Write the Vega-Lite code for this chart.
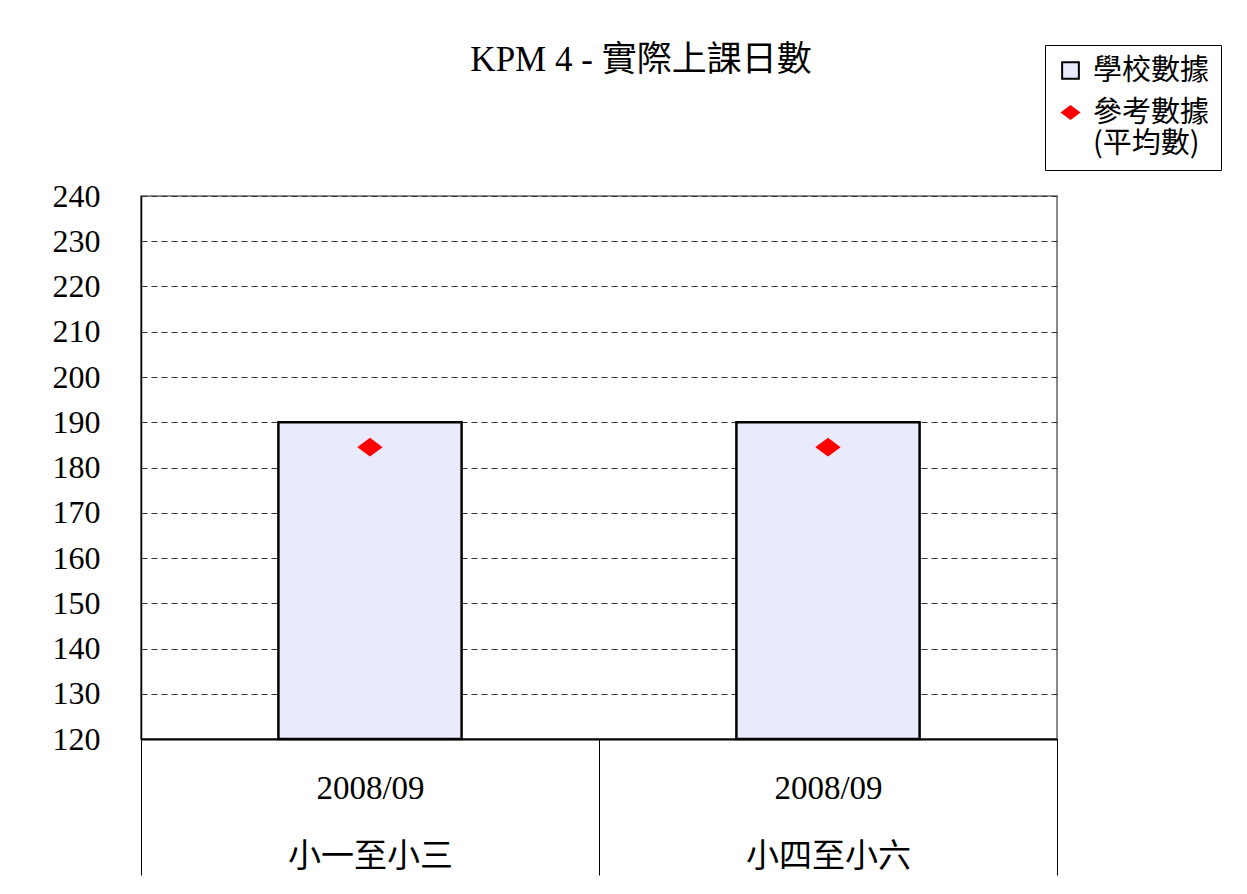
{
  "$schema": "https://vega.github.io/schema/vega-lite/v6.json",
  "autosize": "none",
  "width": 916,
  "height": 543,
  "padding": {"left": 141, "top": 196, "right": 190, "bottom": 155},
  "background": "white",
  "title": {
    "text": "KPM 4 - 實際上課日數",
    "font": "Liberation Serif, Noto Sans CJK TC",
    "fontSize": 35,
    "letterSpacing": 4,
    "fontWeight": "normal",
    "color": "black",
    "anchor": "middle",
    "dx": 42,
    "offset": -33
  },
  "data": {
    "values": [
      {"cat": "2008/09|小一至小三", "series": "學校數據", "value": 190},
      {"cat": "2008/09|小四至小六", "series": "學校數據", "value": 190},
      {"cat": "2008/09|小一至小三", "series": "參考數據|(平均數)", "value": 184.5},
      {"cat": "2008/09|小四至小六", "series": "參考數據|(平均數)", "value": 184.5}
    ]
  },
  "encoding": {
    "x": {
      "field": "cat", "type": "nominal", "sort": null,
      "scale": {"paddingInner": 0, "paddingOuter": 0},
      "axis": {
        "title": null,
        "labelAngle": 0,
        "labelExpr": "isValid(datum.value) ? split(datum.value, '|') : ''",
        "labelFont": "Liberation Serif, Noto Sans CJK TC",
        "labelFontSize": 33,
        "labelColor": "black",
        "labelLineHeight": 68,
        "labelBaseline": "top",
        "labelPadding": -103,
        "domainColor": "black",
        "domainWidth": 2,
        "ticks": true,
        "tickBand": "extent",
        "tickSize": 136,
        "tickColor": "black",
        "tickWidth": 1,
        "grid": false
      }
    },
    "y": {
      "field": "value", "type": "quantitative",
      "scale": {"domain": [120, 240], "zero": false, "nice": false},
      "axis": {
        "title": null,
        "values": [120,130,140,150,160,170,180,190,200,210,220,230,240],
        "labelFont": "Liberation Serif",
        "labelFontSize": 32,
        "labelColor": "black",
        "labelPadding": 41,
        "ticks": false,
        "domainColor": "black",
        "domainWidth": 1.5,
        "grid": true,
        "gridColor": "#333",
        "gridDash": [6, 4],
        "gridWidth": 1
      }
    }
  },
  "layer": [
    {
      "transform": [{"filter": "datum.series == '學校數據'"}],
      "mark": {"type": "bar", "width": {"band": 0.4}, "strokeWidth": 2.5, "opacity": 1},
      "encoding": {
        "y2": {"datum": 120},
        "fill": {"field": "series", "type": "nominal",
          "scale": {"domain": ["學校數據", "參考數據|(平均數)"], "range": ["#e9ebfc", "#ff0000"]},
          "legend": {
            "orient": "none", "legendX": 904, "legendY": -151,
            "title": null,
            "labelExpr": "split(datum.label, '|')",
            "labelFont": "Noto Sans CJK TC",
            "labelFontSize": 29,
            "labelColor": "black",
            "labelLineHeight": 33,
            "labelBaseline": "middle",
            "labelOffset": 8,
            "symbolSize": 280,
            "symbolStrokeWidth": 2,
            "rowPadding": 12,
            "padding": 11,
            "strokeColor": "black",
            "fillColor": "white",
            "labelLimit": 300
          }
        },
        "stroke": {"field": "series", "type": "nominal",
          "scale": {"domain": ["學校數據", "參考數據|(平均數)"], "range": ["#000000", "#ff0000"]}}
      }
    },
    {
      "transform": [{"filter": "datum.series != '學校數據'"}],
      "mark": {"type": "point", "filled": true, "size": 480, "opacity": 1},
      "encoding": {
        "fill": {"field": "series", "type": "nominal"},
        "stroke": {"field": "series", "type": "nominal"},
        "shape": {"field": "series", "type": "nominal",
          "scale": {"domain": ["學校數據", "參考數據|(平均數)"], "range": ["square", "M-1,0L0,-0.75L1,0L0,0.75Z"]}}
      }
    }
  ],
  "resolve": {"scale": {"fill": "shared", "stroke": "shared", "shape": "shared"}},
  "config": {
    "view": {"stroke": "#666", "strokeWidth": 1.5}
  }
}
